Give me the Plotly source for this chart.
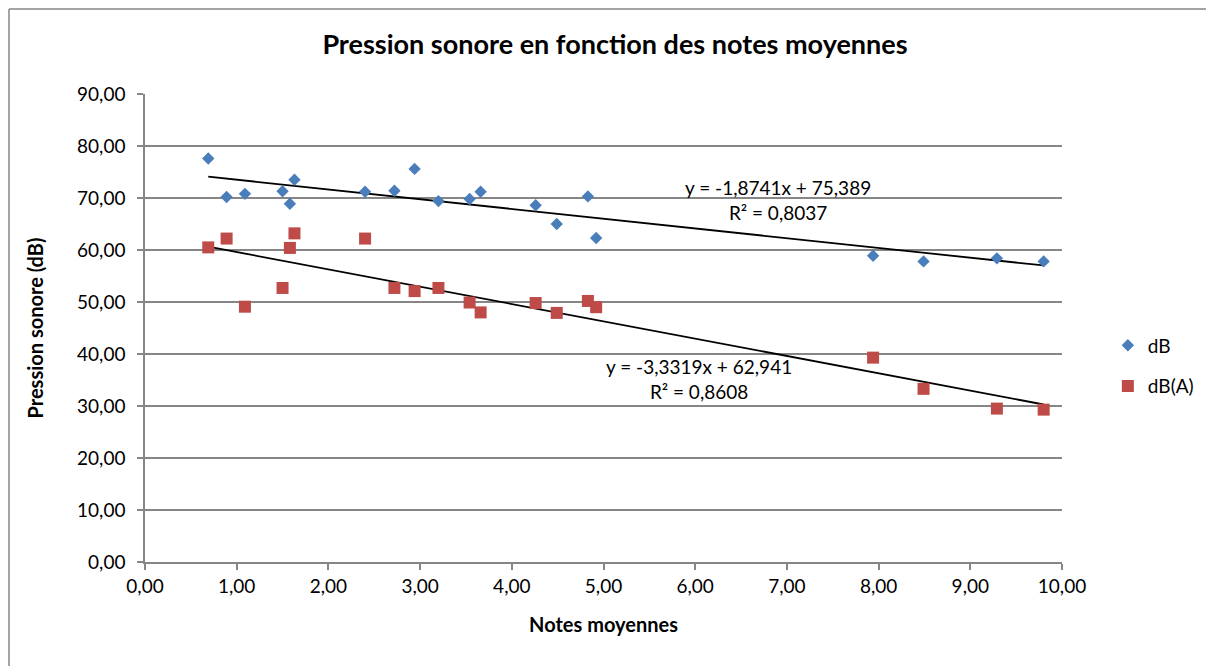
import plotly.graph_objects as go

# ---- data ----
notes = [0.69, 0.89, 1.09, 1.50, 1.58, 1.63, 2.40, 2.72, 2.94, 3.20,
         3.54, 3.66, 4.26, 4.49, 4.83, 4.92, 7.94, 8.49, 9.29, 9.80]
db = [77.6, 70.2, 70.8, 71.3, 68.9, 73.5, 71.2, 71.4, 75.6, 69.4,
      69.8, 71.2, 68.6, 65.0, 70.3, 62.3, 58.9, 57.8, 58.4, 57.8]
dba = [60.5, 62.2, 49.1, 52.7, 60.4, 63.2, 62.2, 52.7, 52.1, 52.7,
       49.9, 48.0, 49.8, 47.9, 50.2, 49.0, 39.3, 33.3, 29.5, 29.3]

# trendline coefficients as printed on the chart
slope_db, icpt_db, r2_db = -1.8741, 75.389, 0.8037
slope_dba, icpt_dba, r2_dba = -3.3319, 62.941, 0.8608

x_ticks = [0, 1, 2, 3, 4, 5, 6, 7, 8, 9, 10]
y_ticks = [0, 10, 20, 30, 40, 50, 60, 70, 80, 90]

FONT = "Lato"
GRID = "#868686"
BLUE = "#4A7EBB"
RED = "#BE4B48"

W, H = 1206, 658
ML, MR, MT, MB = 137, 152, 86, 104
PW, PH = W - ML - MR, H - MT - MB


def fmt(v, nd):
    return f"{v:.{nd}f}".replace(".", ",")


fig = go.Figure()

xmin, xmax = min(notes), max(notes)
trend_x = [xmin, xmax]
for s, c in [(slope_db, icpt_db), (slope_dba, icpt_dba)]:
    fig.add_trace(go.Scatter(
        x=trend_x, y=[s * v + c for v in trend_x], mode="lines",
        line=dict(color="black", width=1.8), showlegend=False,
        hoverinfo="skip"))

fig.add_trace(go.Scatter(
    x=notes, y=db, mode="markers", name="dB", legendgroup="a",
    marker=dict(symbol="diamond", size=9.5, color=BLUE,
                line=dict(width=0))))
fig.add_trace(go.Scatter(
    x=notes, y=dba, mode="markers", name="dB(A)", legendgroup="b",
    marker=dict(symbol="square", size=12, color=RED,
                line=dict(width=0))))

# trendline labels
fig.add_annotation(
    x=6.907, y=69.6, xref="x", yref="y", showarrow=False,
    text=f"y = {fmt(slope_db,4)}x + {fmt(icpt_db,3)}<br>R² = {fmt(r2_db,4)}",
    font=dict(family=FONT, size=19, color="black"), align="center")
fig.add_annotation(
    x=6.046, y=35.1, xref="x", yref="y", showarrow=False,
    text=f"y = {fmt(slope_dba,4)}x + {fmt(icpt_dba,3)}<br>R² = {fmt(r2_dba,4)}",
    font=dict(family=FONT, size=19, color="black"), align="center")

# outer chart border (top and left visible)
bx = (1 - ML) / PW
by = 1 + (MT - 1) / PH
fig.add_shape(type="line", xref="paper", yref="paper",
              x0=bx, x1=1 + MR / PW + 0.01, y0=by, y1=by,
              line=dict(color=GRID, width=1.5))
fig.add_shape(type="line", xref="paper", yref="paper",
              x0=bx, x1=bx, y0=-MB / PH - 0.01, y1=by,
              line=dict(color=GRID, width=1.5))

fig.update_layout(
    width=W, height=H,
    margin=dict(l=ML, r=MR, t=MT, b=MB),
    paper_bgcolor="white", plot_bgcolor="white",
    separators=", ",
    font=dict(family=FONT, size=19, color="black"),
    title=dict(text="<b>Pression sonore en fonction des notes moyennes</b>",
               x=607 / W, xref="container", xanchor="center",
               y=1 - 37 / H, yref="container", yanchor="middle",
               font=dict(family=FONT, size=27, color="black")),
    legend=dict(x=1.050, xanchor="left", y=0.419, yanchor="middle",
                font=dict(family=FONT, size=19), tracegroupgap=13,
                itemwidth=30, bgcolor="rgba(0,0,0,0)"),
    xaxis=dict(range=[0, 10], tickvals=x_ticks, tickformat=".2f",
               showgrid=False, zeroline=False, showline=True,
               linecolor=GRID, linewidth=1.5, ticks="outside",
               ticklen=6, tickcolor=GRID, tickwidth=1.5,
               tickfont=dict(family=FONT, size=19),
               title=dict(text="<b>Notes moyennes</b>", standoff=22,
                          font=dict(family=FONT, size=20))),
    yaxis=dict(range=[0, 90], tickvals=y_ticks, tickformat=".2f",
               showgrid=True, gridcolor=GRID, gridwidth=1.5,
               zeroline=False, showline=True,
               linecolor=GRID, linewidth=1.5, ticks="outside",
               ticklen=6, tickcolor=GRID, tickwidth=1.5,
               ticklabelstandoff=8,
               tickfont=dict(family=FONT, size=19),
               title=dict(text="<b>Pression sonore (dB)</b>", standoff=28,
                          font=dict(family=FONT, size=20))),
)

fig.write_html("out.html")
